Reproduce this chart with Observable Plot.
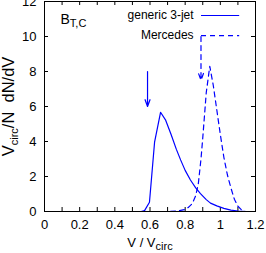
<!DOCTYPE html>
<html>
<head>
<meta charset="utf-8">
<script src="https://cdn.jsdelivr.net/npm/d3@7"></script>
<script src="https://cdn.jsdelivr.net/npm/@observablehq/plot@0.6"></script>
<style>
  html, body { margin: 0; padding: 0; background: white; }
</style>
</head>
<body>
<div id="chart"></div>
<script>
// generic 3-jet (solid)
const v3jet = [0, 0.55, 0.569, 0.597, 0.626, 0.66, 0.688, 0.72, 0.75, 0.774, 0.80, 0.83, 0.86, 0.887, 0.92, 0.944, 0.98, 1.02, 1.06, 1.1, 1.15, 1.2];
const n3jet = [0, 0, 0.05, 0.53, 3.96, 5.67, 5.24, 4.4, 3.55, 2.95, 2.35, 1.8, 1.35, 1.02, 0.68, 0.48, 0.32, 0.18, 0.08, 0.03, 0, 0];
// Mercedes (dashed)
const vMerc = [0, 0.7, 0.76, 0.8, 0.82, 0.84, 0.86, 0.875, 0.89, 0.9, 0.92, 0.94, 0.96, 0.98, 1.0, 1.02, 1.04, 1.06, 1.08, 1.1, 1.12, 1.14, 1.2];
const nMerc = [0, 0, 0.03, 0.12, 0.25, 0.45, 0.9, 1.6, 3.0, 4.2, 6.8, 8.3, 7.2, 5.8, 4.4, 3.1, 2.1, 1.35, 0.7, 0.3, 0.1, 0, 0];
// arrows
const arrowX = [0.586, 0.89];
const arrowFrom = [8, 10];
const arrowTo = [6, 7.5];
const arrowDash = [false, true];
// legend
const legendLabels = ["generic 3-jet", "Mercedes"];
const legendY = [11.2, 10.05];
const legendDash = [false, true];
// ticks
const xTicks = [0, 0.2, 0.4, 0.6, 0.8, 1, 1.2];
const xTickLabels = ["0", "0.2", "0.4", "0.6", "0.8", "1", "1.2"];
const xMinor = [0.1, 0.2, 0.3, 0.4, 0.5, 0.6, 0.7, 0.8, 0.9, 1.0, 1.1];
const yTicks = [0, 2, 4, 6, 8, 10, 12];
const yMinor = [2, 4, 6, 8, 10];

const blue = "#0000ff";
const solid = v3jet.map((v, i) => ({v, n: n3jet[i]}));
const merc = vMerc.map((v, i) => ({v, n: nMerc[i]}));
const arrows = arrowX.map((x, i) => ({x, y1: arrowFrom[i], y2: arrowTo[i], dash: arrowDash[i]}));
const legend = legendLabels.map((t, i) => ({t, y: legendY[i], dash: legendDash[i]}));

const W = 266, H = 253, mL = 44, mR = 11, mT = 1, mB = 42;
const fw = W - mL - mR, fh = H - mT - mB;
const font = "'Liberation Sans', Arial, sans-serif";

const plot = Plot.plot({
  width: W, height: H,
  marginLeft: mL, marginRight: mR, marginTop: mT, marginBottom: mB,
  style: {fontFamily: font, fontSize: "13px", color: "black", background: "white"},
  x: {domain: [0, 1.2]},
  y: {domain: [0, 12]},
  marks: [
    Plot.axisX({ticks: xTicks, tickFormat: (d) => xTickLabels[xTicks.indexOf(d)], tickSize: 0, tickPadding: 8, fontSize: 13, label: null}),
    Plot.axisY({ticks: yTicks, tickSize: 0, tickPadding: 8, fontSize: 13, label: null}),
    // inward ticks
    Plot.tickX(xMinor, {x: d => d, insetTop: fh - 4, stroke: "black"}),
    Plot.tickX(xMinor, {x: d => d, insetBottom: fh - 4, stroke: "black"}),
    Plot.tickY(yMinor, {y: d => d, insetRight: fw - 4, stroke: "black"}),
    Plot.tickY(yMinor, {y: d => d, insetLeft: fw - 4, stroke: "black"}),
    Plot.line(solid, {x: "v", y: "n", stroke: blue, strokeWidth: 1.2}),
    Plot.line(merc, {x: "v", y: "n", stroke: blue, strokeWidth: 1.2, strokeDasharray: "5,4"}),
    Plot.arrow(arrows.filter(d => !d.dash), {x1: "x", x2: "x", y1: "y1", y2: "y2", stroke: blue, strokeWidth: 1.2, headLength: 9, headAngle: 40}),
    Plot.arrow(arrows.filter(d => d.dash), {x1: "x", x2: "x", y1: "y1", y2: "y2", stroke: blue, strokeWidth: 1.2, headLength: 9, headAngle: 40, strokeDasharray: "5,4"}),
    Plot.ruleY(legend.filter(d => !d.dash), {y: "y", x1: 0.893, x2: 1.11, stroke: blue, strokeWidth: 1.2}),
    Plot.ruleY(legend.filter(d => d.dash), {y: "y", x1: 0.893, x2: 1.11, stroke: blue, strokeWidth: 1.2, strokeDasharray: "5,4"}),
    Plot.text(legend, {x: 0.848, y: "y", text: "t", textAnchor: "end", fontSize: 12, fill: "black"}),
    Plot.frame({stroke: "black"}),
    Plot.text(["B_{T,C}"], {frameAnchor: "top-left", dx: 16, dy: 22, lineAnchor: "bottom", textAnchor: "start", fontSize: 14, fill: "black"}),
    Plot.text(["V / V_{circ}"], {frameAnchor: "bottom", dy: 35, textAnchor: "middle", fontSize: 13, fill: "black"}),
    Plot.text(["V_{circ}/N  dN/dV"], {frameAnchor: "left", dx: -36, rotate: -90, textAnchor: "middle", fontSize: 16.5, fill: "black"})
  ]
});

// subscripts: ratio and shift per base font size
const subSpec = {"14": [0.96, 0.54], "13": [0.85, 0.3], "16.5": [0.8, 0.3]};
d3.select(plot).selectAll("text").each(function() {
  const el = this;
  const s = el.textContent;
  if (!s.includes("_{")) return;
  const parts = s.split(/(_\{[^}]*\})/).filter(p => p.length);
  const fs = parseFloat(el.getAttribute("font-size") || getComputedStyle(el).fontSize) || 13;
  const [ratio, shift] = subSpec[String(fs)] || [0.8, 0.3];
  el.textContent = "";
  let down = false;
  for (const p of parts) {
    const t = document.createElementNS("http://www.w3.org/2000/svg", "tspan");
    if (p.startsWith("_{")) {
      t.textContent = p.slice(2, -1);
      t.setAttribute("font-size", (fs * ratio).toFixed(1));
      t.setAttribute("dy", (fs * shift).toFixed(1));
      down = true;
    } else {
      t.textContent = p;
      if (down) { t.setAttribute("dy", (-fs * shift).toFixed(1)); down = false; }
    }
    el.appendChild(t);
  }
});

document.getElementById("chart").appendChild(plot);
</script>
</body>
</html>
